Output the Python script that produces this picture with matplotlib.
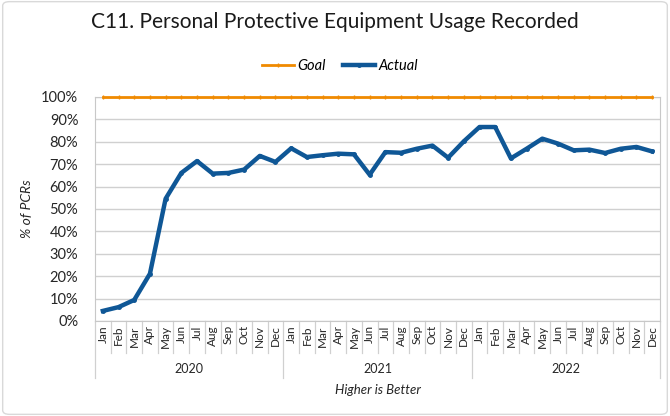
import matplotlib
matplotlib.use("Agg")
import matplotlib.pyplot as plt
import matplotlib.transforms as mtransforms
from matplotlib.patches import FancyBboxPatch

plt.rcParams['font.family'] = ['Lato', 'DejaVu Sans']

# data
months = ["Jan", "Feb", "Mar", "Apr", "May", "Jun",
          "Jul", "Aug", "Sep", "Oct", "Nov", "Dec"]
years = ["2020", "2021", "2022"]
goal = [100] * 36
actual = [4.5, 6.2, 9.4, 21.1, 54.6, 66.1, 71.4, 65.8, 66.1, 67.6, 73.7, 71.0,
          77.1, 73.2, 74.0, 74.7, 74.4, 65.3, 75.4, 75.1, 76.9, 78.3, 72.9, 80.2,
          86.6, 86.6, 72.6, 76.9, 81.4, 79.2, 76.2, 76.5, 75.0, 76.9, 77.7, 75.7]

labels = months * len(years)
x = list(range(len(labels)))

fig = plt.figure(figsize=(6.7, 4.16), dpi=100)
ax = fig.add_axes([95 / 670, 1 - 321 / 416, 565 / 670, 224 / 416])

# outer chart frame
frame = FancyBboxPatch((0.004, 0.004), 0.992, 0.992, boxstyle="round,pad=0,rounding_size=0.01",
                       transform=fig.transFigure, fill=False, ec="#d9d9d9", lw=1)
fig.patches.append(frame)

ax.plot(x, goal, color="#F08A00", lw=2, marker="|", ms=3, mew=1, label="Goal", clip_on=False, zorder=3)
ax.plot(x, actual, color="#0F5796", lw=3.2, marker="o", ms=2.5, label="Actual", zorder=4)

ax.set_xlim(-0.5, len(labels) - 0.5)
ax.set_ylim(0, 100)
ax.set_yticks(range(0, 101, 10))
ax.set_yticklabels([f"{v}%" for v in range(0, 101, 10)], fontsize=10.5, color="#262626")
ax.grid(axis="y", color="#d0d0d0", lw=1)
ax.set_axisbelow(True)
for s in ax.spines.values():
    s.set_color("#c8c8c8")
ax.tick_params(axis="y", length=0, pad=12)

ax.set_xticks(x)
ax.set_xticklabels(labels, rotation=90, fontsize=8.5, color="#262626")
ax.tick_params(axis="x", length=0, pad=3)

# category separators
trans = mtransforms.blended_transform_factory(ax.transData, ax.transAxes)
for i in range(len(labels) + 1):
    bottom = -57 / 224 if i % 12 == 0 else -32 / 224
    ax.plot([i - 0.5, i - 0.5], [0, bottom], color="#d0d0d0", lw=0.9,
            transform=trans, clip_on=False)
for j, yr in enumerate(years):
    ax.text(j * 12 + 5.5, -48 / 224, yr, transform=trans, ha="center", va="center",
            fontsize=9, color="#262626")

ax.text(0.5, -69 / 224, "Higher is Better", transform=ax.transAxes, ha="center",
        va="center", fontsize=9.5, style="italic", color="#262626")
ax.set_ylabel("% of PCRs", fontsize=10, style="italic", color="#262626", labelpad=6)

fig.text(0.5, 1 - 22 / 416, "C11. Personal Protective Equipment Usage Recorded",
         ha="center", va="center", fontsize=15, color="#1a1a1a")
fig.legend(loc="center", bbox_to_anchor=(340 / 670, 1 - 66 / 416), ncol=2, frameon=False,
           prop={"size": 10.5, "style": "italic"}, handlelength=2.2, handletextpad=0.2,
           columnspacing=1.2)

fig.savefig("out.png", dpi=100)
